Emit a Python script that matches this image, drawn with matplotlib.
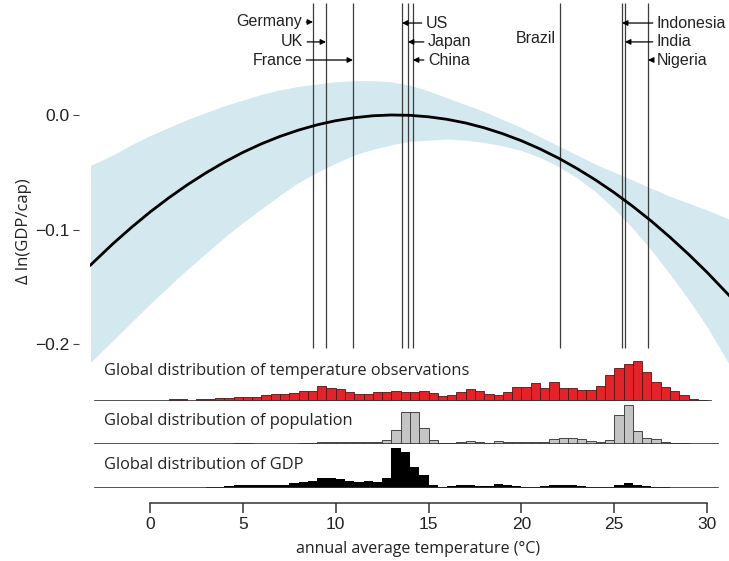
import numpy as np
import matplotlib
matplotlib.use("Agg")
import matplotlib.pyplot as plt

plt.rcParams["font.family"] = ["Liberation Sans", "DejaVu Sans"]

# %% data

# fitted response (Δ ln GDP/cap vs annual temperature) and its confidence band
curve_T = [-3.2, -2, -1, 0, 1, 2, 3, 4, 5, 6, 7, 8, 9, 10, 11, 12, 13, 14, 15, 16,
           17, 18, 19, 20, 21, 22, 23, 24, 25, 26, 27, 28, 29, 30, 31.2]
curve_y = [-0.131, -0.1125, -0.0982, -0.0848, -0.0725, -0.0611, -0.0507, -0.0412,
           -0.0327, -0.0252, -0.0187, -0.0132, -0.0086, -0.0050, -0.0024, -0.0007,
           0.0, -0.0003, -0.0016, -0.0038, -0.0070, -0.0112, -0.0164, -0.0225,
           -0.0296, -0.0377, -0.0468, -0.0568, -0.0678, -0.0798, -0.0927, -0.1067,
           -0.1216, -0.1374, -0.1578]

band_T = [-3.2, -2, -1, 0, 1, 2, 3, 4, 5, 6, 7, 8, 9, 10, 11, 12, 13, 14, 15, 16,
          17, 18, 19, 20, 21, 22, 23, 24, 25, 26, 27, 28, 29, 30, 31.2]
band_hi = [-0.044, -0.035, -0.026, -0.018, -0.011, -0.004, 0.002, 0.008, 0.013,
           0.018, 0.022, 0.025, 0.027, 0.029, 0.030, 0.030, 0.029, 0.026, 0.021,
           0.015, 0.009, 0.003, -0.004, -0.011, -0.019, -0.027, -0.035, -0.043,
           -0.050, -0.057, -0.064, -0.071, -0.077, -0.083, -0.091]
band_lo = [-0.216, -0.197, -0.181, -0.165, -0.150, -0.135, -0.121, -0.107, -0.094,
           -0.082, -0.070, -0.059, -0.050, -0.042, -0.035, -0.030, -0.026, -0.023,
           -0.022, -0.021, -0.022, -0.024, -0.027, -0.031, -0.037, -0.045, -0.055,
           -0.067, -0.082, -0.099, -0.118, -0.139, -0.161, -0.185, -0.218]

countries = ["Germany", "UK", "France", "US", "Japan", "China",
             "Brazil", "Indonesia", "India", "Nigeria"]
country_temp = [8.78, 9.48, 10.93, 13.57, 13.89, 14.16, 22.08, 25.42, 25.58, 26.82]

# histograms, 0.5 °C bins (left edges), relative heights
temp_bins = np.arange(1.0, 30.0, 0.5)
temp_obs = [1.7, 1.7, 0.3, 1.7, 1.7, 2.7, 2.7, 4.3, 4.3, 4.3,
            6.0, 7.5, 6.8, 8.3, 10.0, 10.3, 15.0, 13.3, 12.3, 8.6,
            7.5, 7.5, 8.6, 8.6, 10.2, 9.3, 9.5, 10.0, 8.3, 4.8,
            6.5, 9.3, 12.3, 10.3, 7.0, 6.0, 9.3, 14.3, 14.3, 17.7,
            12.7, 19.5, 12.9, 12.9, 10.6, 10.6, 15.5, 26.5, 32.8, 37.5,
            40.0, 29.5, 19.5, 14.0, 10.3, 6.0, 1.7, 0.7]

pop_bins = np.arange(3.0, 29.5, 0.5)
pop = [0.3, 0.3, 0.3, 0.7, 0.7, 0.2, 0.2, 0.2, 0.2, 0.5,
       0.7, 1.3, 2.3, 2.3, 1.7, 1.7, 1.7, 1.7, 2.3, 3.7,
       14.3, 31.7, 31.7, 16.0, 4.3, 1.0, 1.0, 2.0, 3.3, 2.0,
       1.0, 3.3, 2.0, 2.0, 2.0, 2.0, 2.0, 5.0, 6.0, 6.0,
       5.0, 2.7, 1.7, 4.3, 28.7, 39.3, 12.7, 6.0, 5.0, 1.7,
       1.0, 1.0, 0.3]

gdp_bins = np.arange(2.5, 28.0, 0.5)
gdp = [0.5, 0.8, 1.0, 1.7, 3.3, 3.3, 2.7, 2.7, 3.3, 3.3,
       5.0, 5.7, 7.3, 10.0, 10.0, 9.0, 6.7, 5.7, 6.7, 5.7,
       10.0, 40.0, 36.5, 20.7, 13.3, 3.3, 1.0, 2.0, 2.7, 2.7,
       2.0, 2.0, 4.0, 2.7, 1.7, 1.3, 1.3, 1.7, 2.7, 3.0,
       2.7, 1.7, 1.3, 1.3, 1.3, 3.3, 4.7, 3.3, 2.3, 1.3,
       1.0]

# %% figure

W, H = 729, 561
fig = plt.figure(figsize=(W / 100, H / 100), dpi=100)


def px_axes(left, top, right, bottom):
    return fig.add_axes([left / W, 1 - bottom / H, (right - left) / W, (bottom - top) / H])


XLIM = (-3.23, 31.18)

ax = px_axes(90, 0, 729, 500)
ax.set_xlim(XLIM)
ax.set_ylim(-0.3362, 0.1004)
ax.patch.set_visible(False)
ax.fill_between(band_T, band_lo, band_hi, color="#d4e8f0", lw=0, zorder=1)
ax.vlines(country_temp, -0.2035, 0.0978, color="#3c3c3c", lw=0.9, zorder=2)
ax.plot(curve_T, curve_y, color="k", lw=2.0, zorder=3)
for s in ax.spines.values():
    s.set_visible(False)
ax.spines["left"].set_position(("outward", 8))
ax.set_xticks([])
ax.set_yticks([0.0, -0.1, -0.2])
ax.set_yticklabels(["0.0", "\u22120.1", "\u22120.2"])
ax.tick_params(axis="y", length=4, width=0.8, color="#444", pad=3, labelsize=12.5,
               labelcolor="#222")
fig.text(24 / W, 1 - 231 / H, "\u0394 ln(GDP/cap)", rotation=90, ha="center",
         va="center", fontsize=12, family="Open Sans", color="#222")

# country labels: (text x, text y, alignment)
label_pos = {
    "Germany": (8.19, 0.0812, "right"),
    "UK": (8.24, 0.0638, "right"),
    "France": (8.19, 0.0480, "right"),
    "US": (14.86, 0.0803, "left"),
    "Japan": (14.97, 0.0638, "left"),
    "China": (14.97, 0.0480, "left"),
    "Indonesia": (27.3, 0.0803, "left"),
    "India": (27.3, 0.0638, "left"),
    "Nigeria": (27.3, 0.0480, "left"),
}
for name, t in zip(countries, country_temp):
    if name == "Brazil":
        ax.text(21.85, 0.0665, name, ha="right", va="center", fontsize=11.5, color="#222")
        continue
    tx, ty, ha = label_pos[name]
    ax.annotate(name, xy=(t, ty), xytext=(tx, ty), ha=ha, va="center", fontsize=11.5,
                color="#222",
                arrowprops=dict(arrowstyle="-|>", lw=0.9, color="k",
                                mutation_scale=8, shrinkA=1, shrinkB=0))


def strip(bottom, bins, vals, color, edge, lw, title, ty, end):
    a = px_axes(90, bottom - 50, 729, bottom)
    a.set_xlim(XLIM)
    a.set_ylim(0, 50)
    a.patch.set_visible(False)
    a.bar(bins, vals, width=0.5, align="edge", color=color, edgecolor=edge, linewidth=lw)
    a.plot([-2.95, end], [0, 0], color="#333", lw=1.2)
    a.text(-2.48, ty, title, fontsize=11.8, family="Open Sans", color="#222", va="center")
    for s in a.spines.values():
        s.set_visible(False)
    a.set_xticks([])
    a.set_yticks([])
    return a


strip(401, temp_bins, temp_obs, "#e2232a", "#5a1214", 0.6,
      "Global distribution of temperature observations", 30, 30.2)
strip(444, pop_bins, pop, "#c4c4c4", "#444", 0.7,
      "Global distribution of population", 23, 30.6)
axg = strip(488, gdp_bins, gdp, "k", "k", 0,
            "Global distribution of GDP", 23, 30.6)

axg.spines["bottom"].set_visible(True)
axg.spines["bottom"].set_position(("outward", 11))
axg.spines["bottom"].set_bounds(0, 30)
axg.spines["bottom"].set_color("#333")
axg.spines["bottom"].set_linewidth(1.1)
axg.set_xticks(range(0, 31, 5))
axg.tick_params(axis="x", length=7, width=1.1, color="#333", pad=3, labelsize=12.5,
                labelcolor="#222")
fig.text(418 / W, 1 - 549 / H, "annual average temperature (\u00b0C)", ha="center",
         va="center", fontsize=11.5, family="Open Sans", color="#222")

fig.savefig("out.png", dpi=100)
